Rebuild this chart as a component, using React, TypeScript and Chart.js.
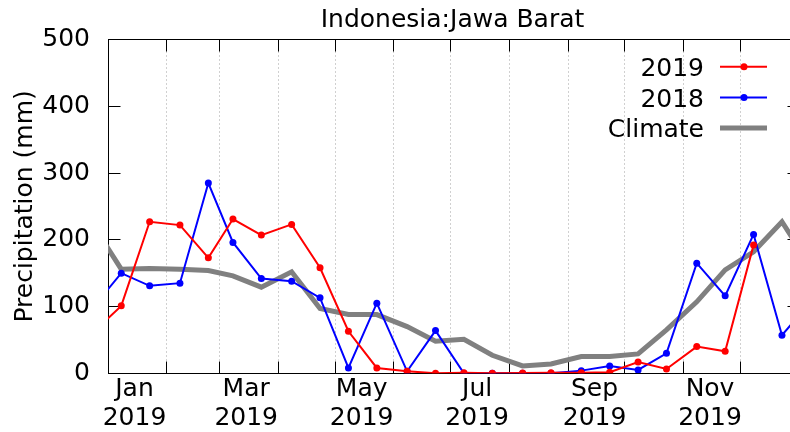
import React, { useEffect, useRef } from 'react';
import { Chart, registerables } from 'chart.js';

Chart.register(...registerables);

// ---- data ----
const dates = [
  '2018-12-23',
  '2019-01-08', '2019-01-23', '2019-02-08', '2019-02-23', '2019-03-08', '2019-03-23',
  '2019-04-08', '2019-04-23', '2019-05-08', '2019-05-23', '2019-06-08', '2019-06-23',
  '2019-07-08', '2019-07-23', '2019-08-08', '2019-08-23', '2019-09-08', '2019-09-23',
  '2019-10-08', '2019-10-23', '2019-11-08', '2019-11-23', '2019-12-08', '2019-12-23',
  '2020-01-08',
];
const rain2019 = [58, 101, 227, 222, 173, 231, 207, 223, 158, 63, 8, 3, 0, 1, 0, 0.5, 1, 1, 1.5, 17, 6.5, 40, 33, 192, null, null];
const rain2018 = [95, 150, 131, 135, 285, 196, 142, 138, 113, 8, 105, 3, 64, 0, 0, 0, 0, 4, 11, 5, 30, 165, 116, 208, 57, 110];
const climate = [227, 156, 157, 156, 154, 146, 129, 152, 97, 88, 88, 70, 48, 51, 27, 11, 14, 25, 25, 29, 65, 107, 155, 182, 227, 156];

const seriesNames = ['2019', '2018', 'Climate'];
const seriesColors = ['#ff0000', '#0000ff', 'rgb(128,128,128)'];

const axisStart = '2019-01-01';
const axisEnd = '2020-01-01';
const monthStarts = [
  '2019-02-01', '2019-03-01', '2019-04-01', '2019-05-01', '2019-06-01', '2019-07-01',
  '2019-08-01', '2019-09-01', '2019-10-01', '2019-11-01', '2019-12-01',
];
const labelDates = ['2019-01-15', '2019-03-15', '2019-05-15', '2019-07-15', '2019-09-15', '2019-11-15'];
const labelMonths = ['Jan', 'Mar', 'May', 'Jul', 'Sep', 'Nov'];
const labelYears = ['2019', '2019', '2019', '2019', '2019', '2019'];
const yMin = 0;
const yMax = 500;
const yStep = 100;

const titleText = 'Indonesia:Jawa Barat';
const yTitleText = 'Precipitation (mm)';

const FONT = '"DejaVu Sans"';

const day0 = Date.UTC(2019, 0, 1);
const toDay = (s: string) => {
  const [y, m, d] = s.split('-').map(Number);
  return (Date.UTC(y, m - 1, d) - day0) / 86400000;
};

const decorPlugin = {
  id: 'decor',
  beforeDatasetsDraw(chart: any) {
    const { ctx, chartArea: a, scales } = chart;
    const x = scales.x;
    const y = scales.y;
    const L = Math.floor(a.left) + 0.5;
    const R = Math.floor(a.right) + 0.5;
    const T = Math.floor(a.top) + 0.5;
    const B = Math.floor(a.bottom) + 0.5;
    const line = (x1: number, y1: number, x2: number, y2: number) => {
      ctx.beginPath();
      ctx.moveTo(x1, y1);
      ctx.lineTo(x2, y2);
      ctx.stroke();
    };
    ctx.save();
    ctx.lineWidth = 1;
    ctx.strokeStyle = '#a0a0a0';
    ctx.setLineDash([1, 3]);
    for (const d of monthStarts) {
      const px = Math.floor(x.getPixelForValue(toDay(d))) + 0.5;
      line(px, T, px, B);
    }
    ctx.setLineDash([]);
    ctx.strokeStyle = '#000';
    for (const d of monthStarts) {
      const px = Math.floor(x.getPixelForValue(toDay(d))) + 0.5;
      line(px, B, px, B - 12);
      line(px, T, px, T + 12);
    }
    for (let v = yMin + yStep; v < yMax; v += yStep) {
      const py = Math.floor(y.getPixelForValue(v)) + 0.5;
      line(L, py, L + 12, py);
      line(R, py, R - 12, py);
    }
    ctx.strokeRect(L, T, R - L, B - T);
    ctx.restore();
  },
  afterDraw(chart: any) {
    const { ctx, chartArea: a } = chart;
    ctx.save();
    ctx.fillStyle = '#000';
    ctx.font = `25px ${FONT}`;
    // title
    ctx.textAlign = 'center';
    ctx.textBaseline = 'alphabetic';
    ctx.fillText(titleText, (a.left + a.right) / 2 - 1, 26.7);
    // y title
    ctx.save();
    ctx.translate(32, (a.top + a.bottom) / 2);
    ctx.rotate(-Math.PI / 2);
    ctx.fillText(yTitleText, 0, 0);
    ctx.restore();
    // legend
    const baselines = [76, 106.7, 137.3];
    const widths = [2, 2, 5];
    for (let i = 0; i < seriesNames.length; i++) {
      ctx.textAlign = 'right';
      ctx.fillStyle = '#000';
      ctx.fillText(seriesNames[i], 704, baselines[i]);
      const cy = baselines[i] - 9.3;
      ctx.strokeStyle = seriesColors[i];
      ctx.lineWidth = widths[i];
      ctx.beginPath();
      ctx.moveTo(720, cy);
      ctx.lineTo(767, cy);
      ctx.stroke();
      if (i < 2) {
        ctx.fillStyle = seriesColors[i];
        ctx.beginPath();
        ctx.arc(744, cy, 3.5, 0, Math.PI * 2);
        ctx.fill();
      }
    }
    ctx.restore();
  },
};

export default function App() {
  const ref = useRef<HTMLCanvasElement | null>(null);
  useEffect(() => {
    if (!ref.current) return;
    const mk = (vals: (number | null)[]) => dates.map((d, i) => ({ x: toDay(d), y: vals[i] }));
    const tickValues = [...monthStarts, ...labelDates].map(toDay).sort((p, q) => p - q);
    const labelMap: Record<number, string[]> = {};
    labelDates.forEach((d, i) => {
      labelMap[toDay(d)] = [labelMonths[i], labelYears[i]];
    });
    const chart = new Chart(ref.current, {
      type: 'line',
      data: {
        datasets: [
          {
            label: seriesNames[0],
            data: mk(rain2019) as any,
            borderColor: seriesColors[0],
            backgroundColor: seriesColors[0],
            pointBackgroundColor: seriesColors[0],
            borderWidth: 2,
            pointRadius: 3.5,
            pointBorderWidth: 0,
            tension: 0,
            clip: 0,
          },
          {
            label: seriesNames[1],
            data: mk(rain2018) as any,
            borderColor: seriesColors[1],
            backgroundColor: seriesColors[1],
            pointBackgroundColor: seriesColors[1],
            borderWidth: 2,
            pointRadius: 3.5,
            pointBorderWidth: 0,
            tension: 0,
            clip: 0,
          },
          {
            label: seriesNames[2],
            data: mk(climate) as any,
            borderColor: seriesColors[2],
            backgroundColor: seriesColors[2],
            borderWidth: 5,
            pointRadius: 0,
            tension: 0,
            clip: 0,
          },
        ],
      },
      options: {
        responsive: false,
        animation: false,
        devicePixelRatio: 1,
        events: [],
        layout: { padding: { top: 39.5, left: 0, right: 41, bottom: 0 } },
        plugins: { legend: { display: false }, tooltip: { enabled: false }, title: { display: false } },
        scales: {
          x: {
            type: 'linear',
            min: toDay(axisStart),
            max: toDay(axisEnd),
            grid: { display: false, drawTicks: false },
            border: { display: false },
            afterBuildTicks: (scale: any) => {
              scale.ticks = tickValues.map((v) => ({ value: v }));
            },
            afterFit: (scale: any) => {
              scale.height = 58.7;
              scale.paddingLeft = 0;
              scale.paddingRight = 0;
            },
            ticks: {
              autoSkip: false,
              maxRotation: 0,
              minRotation: 0,
              padding: 2,
              color: '#000',
              font: { family: FONT, size: 25, lineHeight: 1.16 },
              callback: (v: any) => labelMap[v] || '',
            },
          },
          y: {
            type: 'linear',
            min: yMin,
            max: yMax,
            grid: { display: false, drawTicks: false },
            border: { display: false },
            afterFit: (scale: any) => {
              scale.width = 108;
              scale.paddingTop = 0;
              scale.paddingBottom = 0;
            },
            ticks: {
              stepSize: yStep,
              padding: 18,
              color: '#000',
              font: { family: FONT, size: 25 },
            },
          },
        },
      },
      plugins: [decorPlugin],
    } as any);
    return () => chart.destroy();
  }, []);
  return (
    <div style={{ position: 'fixed', left: 0, top: 0, width: 790, height: 432, overflow: 'hidden', background: '#fff' }}>
      <canvas ref={ref} width={840} height={432} style={{ width: 840, height: 432, display: 'block' }} />
    </div>
  );
}
